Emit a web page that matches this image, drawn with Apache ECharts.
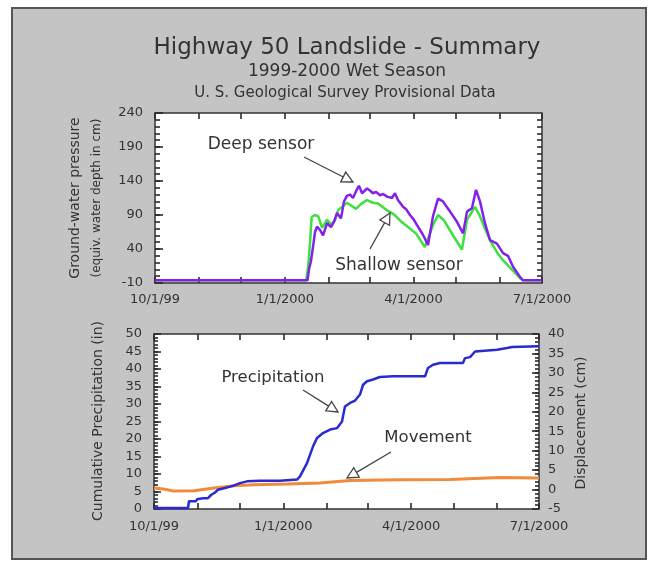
<!DOCTYPE html>
<html><head><meta charset="utf-8">
<script src="https://cdn.jsdelivr.net/npm/echarts@6/dist/echarts.min.js"></script>
<style>
html,body{margin:0;padding:0;background:#fff}
#panel{position:absolute;left:11px;top:7px;width:636px;height:553px;background:#c4c4c4;border:2px solid #555;box-sizing:border-box}
#c{position:absolute;left:0;top:0;width:655px;height:565px}
</style>
</head><body><div id="panel"></div><div id="c"></div>
<script>
// x axis: days since 10/1/1999
const xTickDays = [0, 31, 61, 92, 123, 152, 183, 213, 244, 274];
const xLabelDays = [0, 92, 183, 274];
const xLabels = ['10/1/99', '1/1/2000', '4/1/2000', '7/1/2000'];
const gwTickLabels = [-10, 40, 90, 140, 190, 240];

// Deep sensor (cm)
const deepDays = [0, 108, 109, 110.4, 112, 113.3, 114.7, 116.8, 119, 121.8, 124.6, 126.7, 128.9, 131.7, 133.8, 135.9, 138.1, 140.2, 143, 144.4, 146.6, 150.1, 152.2, 154.3, 156.5, 159.3, 161.5, 164.3, 167.8, 169.9, 172, 175.6, 178, 180.5, 183, 185.5, 189.7, 193.3, 196.8, 200.4, 203.9, 206.5, 208.9, 213.8, 218.1, 220.9, 224.4, 227.3, 230.1, 233.6, 237.2, 242.1, 246.4, 249.9, 253.5, 258.4, 260.5, 274];
const deepCm = [-6, -6, 10, 22, 45, 65, 73, 68, 60, 78, 72, 80, 93, 85, 110, 118, 120, 115, 128, 133, 122, 129, 126, 122, 124, 119, 121, 117, 115, 122, 112, 102, 98, 90, 84, 75, 61, 46, 88, 114, 110, 102, 95, 80, 63, 95, 100, 127, 110, 78, 53, 48, 34, 30, 14, -1, -6, -6];

// Shallow sensor (cm)
const shallowDays = [0, 107, 108.5, 109.8, 110.9, 113.3, 115.6, 118.3, 121.8, 124.6, 127.4, 129.6, 132.4, 135.9, 138.8, 142.3, 145.8, 150.1, 154.3, 157.9, 163.5, 169.2, 173.4, 177.6, 184.7, 191.1, 196.8, 200.4, 204.6, 211.6, 217.3, 220.9, 226.6, 230.1, 233.6, 237.9, 242.8, 247, 253.5, 258.4, 260.5, 274];
const shallowCm = [-6, -6, 15, 50, 87, 90, 88, 71, 83, 76, 82, 97, 102, 108, 104, 99, 106, 112, 108, 107, 98, 91, 82, 75, 63, 43, 75, 90, 82, 58, 39, 83, 102, 88, 70, 50, 33, 22, 8, -3, -6, -6];

// Cumulative precipitation (in)
const precipDays = [0, 24.2, 24.9, 29.9, 30.6, 34.9, 38.4, 40.6, 43.4, 45.5, 50.5, 56.2, 61.2, 66.2, 75.4, 89.7, 101.8, 103.9, 108.9, 113.2, 116, 120.3, 125.3, 130.2, 133.8, 135.9, 139.5, 143.1, 146.6, 148.8, 151.6, 155.9, 160.8, 170.1, 192.9, 195, 198.6, 203.5, 219.9, 221.3, 224.9, 228.5, 244.1, 251.2, 254.8, 274];
const precipIn = [0.3, 0.3, 2.2, 2.2, 2.8, 3.1, 3.1, 4.0, 4.7, 5.5, 6.0, 6.6, 7.4, 7.9, 8.1, 8.1, 8.4, 9.3, 13.1, 17.9, 20.3, 21.7, 22.7, 23.1, 25, 29.3, 30.3, 31, 32.7, 35.5, 36.5, 37, 37.7, 37.9, 37.9, 40.3, 41.2, 41.7, 41.7, 43.1, 43.4, 45, 45.5, 46, 46.3, 46.5];

// Movement / displacement (cm)
const moveDays = [0, 7.8, 14.2, 28.5, 42.7, 56.9, 71.2, 94.7, 118.1, 139.5, 175.1, 210.7, 246.2, 274];
const moveCm = [0.4, 0.1, -0.4, -0.3, 0.4, 1.0, 1.25, 1.4, 1.7, 2.3, 2.5, 2.6, 3.1, 3.0];

const pair = (xs, ys) => xs.map((x, i) => [x, ys[i]]);
const FONT = 'DejaVu Sans';
const TXT = '#333';
const HIDE = 'rgba(0,0,0,0)';

// builds an axis that draws inside ticks; labels optional (hidden ones are transparent)
function axis(grid, pos, min, max, o) {
  const a = {
    gridIndex: grid, type: 'value', position: pos, min: min, max: max,
    axisLine: { show: false, onZero: false },
    splitLine: { show: false },
    axisTick: { show: true, inside: true, length: o.len, lineStyle: { color: '#2a2a2a', width: 1.6 } },
    axisLabel: { show: true, fontFamily: FONT, fontSize: 13, color: o.labels ? TXT : HIDE, margin: o.margin || 10 }
  };
  if (o.interval) a.interval = o.interval;
  if (o.tickValues) a.axisTick.customValues = o.tickValues;
  if (o.labelValues) a.axisLabel.customValues = o.labelValues;
  if (o.fmt) a.axisLabel.formatter = o.fmt;
  return a;
}
const xFmt = v => xLabels[xLabelDays.indexOf(v)] || '';

function arrow(x1, y1, x2, y2) {
  const dx = x2 - x1, dy = y2 - y1, L = Math.hypot(dx, dy), ux = dx / L, uy = dy / L;
  const len = 11, w = 5.5;
  const bx = x2 - ux * len, by = y2 - uy * len;
  return [
    { type: 'line', z: 100, shape: { x1: x1, y1: y1, x2: bx, y2: by }, style: { stroke: '#444', lineWidth: 1.3 } },
    { type: 'polygon', z: 100, shape: { points: [[x2, y2], [bx - uy * w, by + ux * w], [bx + uy * w, by - ux * w]] },
      style: { fill: '#fff', stroke: '#444', lineWidth: 1.3 } }
  ];
}
const txt = (x, y, s, size, rot) => ({
  type: 'text', z: 100, x: x, y: y, rotation: rot || 0,
  style: { text: s, fontFamily: FONT, fontSize: size, fill: TXT, align: 'center', verticalAlign: 'middle' }
});

const chart = echarts.init(document.getElementById('c'), null, { renderer: 'canvas' });
chart.setOption({
  backgroundColor: 'transparent',
  animation: false,
  grid: [
    { left: 155, top: 113, width: 387, height: 170, show: true, backgroundColor: '#fff', borderColor: '#333', borderWidth: 1.5 },
    { left: 154, top: 334, width: 385, height: 175, show: true, backgroundColor: '#fff', borderColor: '#333', borderWidth: 1.5 }
  ],
  xAxis: [
    axis(0, 'bottom', 0, 274, { len: 6, labels: true, tickValues: xTickDays, labelValues: xLabelDays, fmt: xFmt, margin: 10 }),
    axis(0, 'top', 0, 274, { len: 6, labels: false, tickValues: xTickDays, labelValues: xLabelDays }),
    axis(1, 'bottom', 0, 274, { len: 6, labels: true, tickValues: xTickDays, labelValues: xLabelDays, fmt: xFmt, margin: 11 }),
    axis(1, 'top', 0, 274, { len: 6, labels: false, tickValues: xTickDays, labelValues: xLabelDays })
  ],
  yAxis: [
    axis(0, 'left', -10, 240, { len: 8, labels: true, tickValues: gwTickLabels, labelValues: gwTickLabels, margin: 12 }),
    axis(0, 'left', -10, 240, { len: 5, labels: false, interval: 10 }),
    axis(0, 'right', -10, 240, { len: 5, labels: false, interval: 10 }),
    axis(1, 'left', 0, 50, { len: 7, labels: true, interval: 5, margin: 12 }),
    axis(1, 'right', -5, 40, { len: 7, labels: true, interval: 5, margin: 9 }),
    axis(1, 'left', 0, 50, { len: 4, labels: false, interval: 1 }),
    axis(1, 'right', -5, 40, { len: 4, labels: false, interval: 1 })
  ],
  series: [
    { name: 'Shallow sensor', type: 'line', xAxisIndex: 0, yAxisIndex: 0, data: pair(shallowDays, shallowCm),
      showSymbol: false, lineStyle: { color: '#3ee03e', width: 2.5 }, itemStyle: { color: '#3ee03e' } },
    { name: 'Deep sensor', type: 'line', xAxisIndex: 0, yAxisIndex: 0, data: pair(deepDays, deepCm),
      showSymbol: false, lineStyle: { color: '#8420ec', width: 2.5 }, itemStyle: { color: '#8420ec' } },
    { name: 'Movement', type: 'line', xAxisIndex: 2, yAxisIndex: 4, data: pair(moveDays, moveCm),
      showSymbol: false, lineStyle: { color: '#f08a3c', width: 3 }, itemStyle: { color: '#f08a3c' } },
    { name: 'Precipitation', type: 'line', xAxisIndex: 2, yAxisIndex: 3, data: pair(precipDays, precipIn),
      showSymbol: false, lineStyle: { color: '#2a2ad0', width: 2.5 }, itemStyle: { color: '#2a2ad0' } }
  ],
  graphic: [
    txt(347, 48, 'Highway 50 Landslide - Summary', 23),
    txt(347, 72, '1999-2000 Wet Season', 17),
    txt(345, 93, 'U. S. Geological Survey Provisional Data', 15),
    txt(75, 198, 'Ground-water pressure', 14, Math.PI / 2),
    txt(97, 198, '(equiv. water depth in cm)', 12, Math.PI / 2),
    txt(98, 421, 'Cumulative Precipitation (in)', 14, Math.PI / 2),
    txt(581, 423, 'Displacement (cm)', 14, Math.PI / 2),
    txt(261, 145, 'Deep sensor', 17),
    txt(399, 266, 'Shallow sensor', 17),
    txt(273, 378, 'Precipitation', 16.5),
    txt(428, 438, 'Movement', 16.5)
  ].concat(arrow(304, 157, 353, 182), arrow(370, 249, 390, 213), arrow(303, 390, 338, 412), arrow(391, 452, 347, 478))
});
</script>
</body></html>
